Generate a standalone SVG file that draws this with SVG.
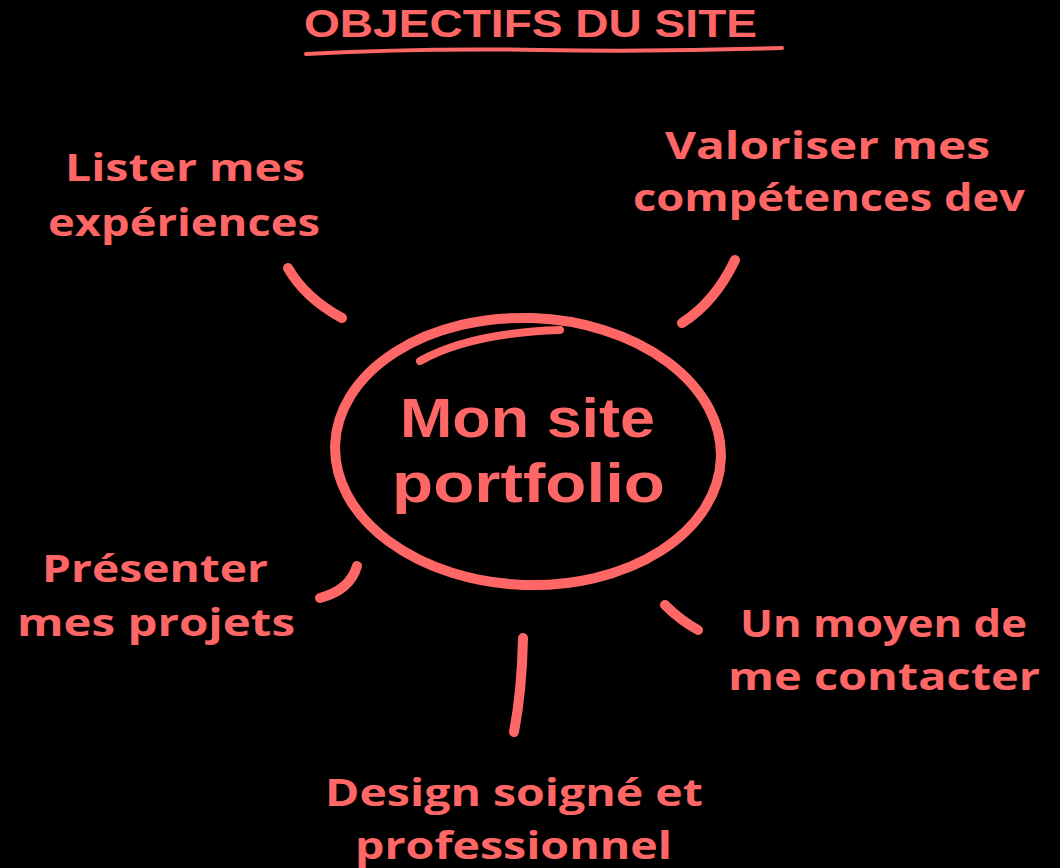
<svg xmlns="http://www.w3.org/2000/svg" width="1060" height="868" viewBox="0 0 1060 868">
  <style>
    .t { font-family: "Open Sans", "Noto Sans", "Liberation Sans", sans-serif; font-weight: 700; fill: #ff6666; }
    .lbl { font-size: 38px; }
    .ttl { font-family: "Liberation Sans", "Open Sans", sans-serif; font-size: 39px; }
    .ctr { font-family: "Liberation Sans", "Open Sans", sans-serif; font-size: 56px; }
    .stroke { fill: none; stroke: #ff6666; stroke-linecap: round; stroke-linejoin: round; }
  </style>
  <rect width="1060" height="868" fill="#000000"/>

  <g id="title">
    <text class="t ttl" x="304" y="37" textLength="453" lengthAdjust="spacingAndGlyphs">OBJECTIFS DU SITE</text>
    <path class="stroke" stroke-width="4" d="M306,54 Q420,48 540,50 T782,48"/>
  </g>

  <g id="center">
    <ellipse class="stroke" cx="528" cy="451.5" rx="193" ry="133.5" stroke-width="10" transform="rotate(2 528 451.5)"/>
    <path class="stroke" stroke-width="8" d="M420,361 Q470,333 560,330"/>
    <text class="t ctr" x="400" y="437" textLength="255" lengthAdjust="spacingAndGlyphs">Mon site</text>
    <text class="t ctr" x="392" y="502" textLength="273" lengthAdjust="spacingAndGlyphs">portfolio</text>
  </g>

  <g id="node-experiences">
    <text class="t lbl" x="65" y="181" textLength="240" lengthAdjust="spacingAndGlyphs">Lister mes</text>
    <text class="t lbl" x="48" y="236" textLength="272" lengthAdjust="spacingAndGlyphs">expériences</text>
  </g>

  <g id="node-competences">
    <text class="t lbl" x="665" y="159" textLength="325" lengthAdjust="spacingAndGlyphs">Valoriser mes</text>
    <text class="t lbl" x="633" y="211" textLength="392" lengthAdjust="spacingAndGlyphs">compétences dev</text>
  </g>

  <g id="node-projets">
    <text class="t lbl" x="42" y="582" textLength="226" lengthAdjust="spacingAndGlyphs">Présenter</text>
    <text class="t lbl" x="17" y="636" textLength="278" lengthAdjust="spacingAndGlyphs">mes projets</text>
  </g>

  <g id="node-contact">
    <text class="t lbl" x="740" y="637" textLength="287" lengthAdjust="spacingAndGlyphs">Un moyen de</text>
    <text class="t lbl" x="728" y="690" textLength="312" lengthAdjust="spacingAndGlyphs">me contacter</text>
  </g>

  <g id="node-design">
    <text class="t lbl" x="325" y="806" textLength="378" lengthAdjust="spacingAndGlyphs">Design soigné et</text>
    <text class="t lbl" x="355" y="859" textLength="317" lengthAdjust="spacingAndGlyphs">professionnel</text>
  </g>

  <g id="connectors">
    <path class="stroke" stroke-width="10" d="M288,268 Q305,298 342,318"/>
    <path class="stroke" stroke-width="10" d="M735,260 Q715,302 682,323"/>
    <path class="stroke" stroke-width="10" d="M357,566 Q350,590 320,598"/>
    <path class="stroke" stroke-width="10" d="M665,605 Q680,620 698,630"/>
    <path class="stroke" stroke-width="10" d="M523,638 Q522,690 514,732"/>
  </g>
</svg>
